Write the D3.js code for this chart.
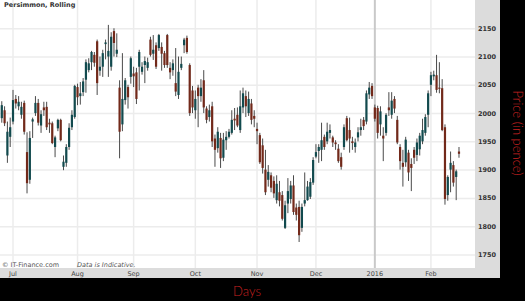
<!doctype html>
<html lang="en">
<head>
<meta charset="utf-8">
<title>Persimmon, Rolling</title>
<script src="https://d3js.org/d3.v7.min.js"></script>
<style>
body { margin: 0; background: #000; }
svg { display: block; }
.grid line { stroke: #ececec; stroke-width: 1.5; }
.grid path { display: none; }
.grid .year line { stroke: #c9c9c9; stroke-width: 2; }
.axis path, .axis line { display: none; }
.axis text { font-family: "DejaVu Sans", sans-serif; fill: #333; }
.yaxis text { font-size: 6.5px; font-weight: bold; }
.xaxis text { font-size: 6.5px; fill: #444; }
.note { font-family: "DejaVu Sans", sans-serif; font-size: 6.5px; fill: #555; }
.label { font-family: Lato, "DejaVu Sans", sans-serif; font-size: 13px; font-weight: 300; fill: #c82020; }
</style>
</head>
<body>
<svg width="525" height="301"></svg>
<script>
var opens = [1991,2005,1925,1958,1985,2025,2012,1997,2018,1931,1882,1985,2000,2018,1978,2010,2011,1983,1982,1940,
  1973,1988,1905,1912,1940,1975,1993,2046,2030,2037,2059,2076,2090,2103,2127,2075,2082,2122,2100,2082,
  2145,2105,2045,1980,2023,2046,2064,2070,2072,2082,2073,2085,2080,2130,2105,2120,2115,2117,2106,2138,
  2080,2076,2053,2032,2080,2120,2133,2085,2040,2005,2045,2030,2058,2008,1993,2012,1955,1938,1956,1921,
  1952,1958,1965,1990,1997,1970,2010,2030,2000,2017,1995,1972,1961,1943,1900,1882,1890,1880,1846,1860,
  1855,1797,1840,1848,1872,1833,1834,1797,1840,1846,1852,1877,1923,1933,1935,1958,1950,1965,1957,1948,
  1937,1922,1940,1991,1970,1950,1940,1957,1970,1988,1985,2033,2048,2010,2009,1980,1960,1965,2010,1997,
  2025,1988,1940,1912,1913,1930,1910,1935,1926,1936,1950,1965,1997,2050,2065,2067,2045,2044,1975,1855,
  1900,1908,1887,1932];
var highs = [2021,2012,1985,1992,2041,2032,2030,2020,2022,1966,1968,1992,2030,2025,2005,2020,2020,1990,1985,1960,
  1990,1990,1925,1945,1982,2005,2050,2052,2055,2062,2095,2097,2110,2108,2130,2100,2112,2130,2156,2143,
  2150,2141,2058,2106,2062,2050,2100,2082,2080,2112,2090,2100,2098,2135,2138,2125,2140,2125,2110,2140,
  2090,2095,2115,2100,2100,2133,2137,2088,2048,2040,2050,2060,2076,2012,2015,2020,1962,1975,1965,1965,
  1968,1972,2005,2009,2010,2040,2045,2040,2038,2025,2005,1983,1965,1955,1935,1908,1895,1888,1890,1880,
  1862,1845,1885,1880,1890,1840,1845,1840,1895,1880,1885,1922,1945,1945,1983,1962,1983,1980,1960,1952,
  1945,1930,1980,1995,1992,1958,1955,1975,1990,1993,2040,2055,2053,2015,2013,2012,1975,2000,2037,2037,
  2030,1995,1945,1935,1958,1935,1920,1940,1955,1965,1990,1998,2040,2073,2075,2103,2090,2060,1980,1890,
  1932,1915,1900,1940];
var lows = [1983,1977,1912,1940,1980,2008,2005,1990,1962,1858,1875,1956,1995,1978,1965,1995,1970,1965,1945,1922,
  1968,1950,1899,1905,1935,1970,1990,2014,2015,2030,2036,2072,2076,2082,2032,2066,2064,2095,2064,2075,
  2100,2099,1920,1968,2015,2008,2052,2046,2016,2040,2068,2053,2075,2100,2094,2078,2110,2075,2080,2080,
  2060,2066,2030,2025,2076,2106,2105,1995,2000,1990,1975,2020,2000,1982,1985,1940,1905,1930,1903,1915,
  1935,1955,1962,1970,1975,1965,2000,1993,1995,1980,1975,1945,1910,1893,1855,1870,1860,1850,1840,1835,
  1810,1795,1823,1840,1820,1810,1772,1790,1835,1845,1848,1873,1920,1912,1915,1935,1945,1955,1940,1935,
  1912,1900,1935,1950,1930,1935,1930,1950,1960,1970,1980,2025,2025,1985,1955,1960,1915,1960,1995,1990,
  2000,1945,1900,1870,1905,1880,1862,1910,1915,1925,1945,1960,1975,2030,2058,2036,2035,1968,1838,1845,
  1860,1870,1846,1921];
var closes = [2014,1982,1967,1975,2023,2017,2020,2011,1967,1876,1956,1989,2018,1983,1998,2005,1975,1980,1947,1957,
  1988,1952,1914,1940,1974,1997,2048,2028,2035,2056,2090,2088,2108,2089,2053,2082,2106,2125,2110,2135,
  2124,2112,1967,2025,2058,2028,2097,2065,2025,2108,2082,2092,2090,2103,2112,2082,2138,2105,2085,2085,
  2072,2088,2038,2073,2087,2130,2108,2000,2010,2025,2030,2045,2010,1988,2005,1950,1935,1967,1920,1953,
  1958,1967,1988,1987,1978,2012,2035,2012,2025,1988,1990,1968,1913,1903,1860,1896,1868,1858,1875,1845,
  1813,1837,1862,1872,1825,1820,1784,1834,1846,1870,1878,1917,1931,1940,1952,1940,1967,1970,1948,1945,
  1915,1905,1975,1952,1955,1947,1948,1966,1975,1977,2035,2045,2030,1990,1965,2003,1955,1997,2005,2022,
  2008,1948,1915,1905,1953,1895,1903,1921,1948,1960,1970,1993,2035,2067,2068,2041,2043,1970,1848,1887,
  1912,1877,1897,1928];

var monthLabels = ['Jul', 'Aug', 'Sep', 'Oct', 'Nov', 'Dec', '2016', 'Feb'];
var monthStarts = [4, 27, 47, 69, 91, 112, 133, 153];
var priceTicks = [1750, 1800, 1850, 1900, 1950, 2000, 2050, 2100, 2150];

var svg = d3.select('svg');
var plotW = 475, plotH = 268;

var candles = closes.map(function(c, i) {
  return { i: i, o: opens[i], h: highs[i], l: lows[i], c: c };
});

var x = d3.scaleBand()
  .domain(d3.range(candles.length))
  .range([0.38, 0.38 + candles.length * 2.805]);

var y = d3.scaleLinear()
  .domain([1726, 2200])
  .range([plotH, 0]);

// backgrounds
svg.append('rect').attr('width', 525).attr('height', 301).attr('fill', '#000');
svg.append('rect').attr('width', 500).attr('height', 278).attr('fill', '#dcdcdc');
svg.append('rect').attr('width', plotW).attr('height', plotH).attr('fill', '#fff');

// grid
svg.append('g')
  .attr('class', 'grid')
  .call(d3.axisLeft(y).tickValues(priceTicks).tickSize(-plotW).tickFormat(''));

var vgrid = svg.append('g')
  .attr('class', 'grid')
  .attr('transform', 'translate(0,' + plotH + ')')
  .call(d3.axisBottom(x).tickValues(monthStarts).tickSize(-plotH).tickFormat(''));
vgrid.selectAll('.tick').classed('year', function(d) { return d === 133; });

// candles
var cx = function(d) { return x(d.i) + x.bandwidth() / 2; };
var bodyW = 2.2;

var g = svg.append('g');
g.selectAll('line').data(candles)
  .enter()
    .append('line')
    .attr('x1', cx).attr('x2', cx)
    .attr('y1', function(d) { return y(d.h); })
    .attr('y2', function(d) { return y(d.l); })
    .attr('stroke', '#4a4a4a')
    .attr('stroke-width', 1);

g.selectAll('rect').data(candles)
  .enter()
    .append('rect')
    .attr('x', function(d) { return cx(d) - bodyW / 2; })
    .attr('width', bodyW)
    .attr('y', function(d) { return y(Math.max(d.o, d.c)); })
    .attr('height', function(d) { return Math.max(1, Math.abs(y(d.o) - y(d.c))); })
    .attr('fill', function(d) { return d.c >= d.o ? '#124a4e' : '#72291a'; });

// axes
svg.append('g')
  .attr('class', 'axis yaxis')
  .attr('transform', 'translate(' + plotW + ',0)')
  .call(d3.axisRight(y).tickValues(priceTicks).tickSize(0).tickPadding(3).tickFormat(d3.format('d')));

svg.append('g')
  .attr('class', 'axis xaxis')
  .attr('transform', 'translate(0,' + plotH + ')')
  .call(d3.axisBottom(x).tickValues(monthStarts).tickSize(0).tickPadding(3.5)
    .tickFormat(function(d, k) { return monthLabels[k]; }));

// texts
svg.append('text')
  .attr('x', 4).attr('y', 6.5)
  .attr('font-family', '"DejaVu Sans", sans-serif')
  .attr('font-size', '6.5px')
  .attr('font-weight', 'bold')
  .attr('fill', '#333')
  .text('Persimmon, Rolling');

svg.append('text').attr('class', 'note')
  .attr('x', 2).attr('y', 266.5)
  .text('\u00a9 IT-Finance.com');
svg.append('text').attr('class', 'note')
  .attr('x', 77).attr('y', 266.5)
  .attr('font-style', 'italic')
  .text('Data is Indicative.');

svg.append('text').attr('class', 'label')
  .attr('x', 247).attr('y', 296)
  .attr('text-anchor', 'middle')
  .text('Days');

svg.append('text').attr('class', 'label')
  .attr('transform', 'translate(513,133) rotate(90)')
  .attr('text-anchor', 'middle')
  .text('Price (in pence)');
</script>
</body>
</html>
